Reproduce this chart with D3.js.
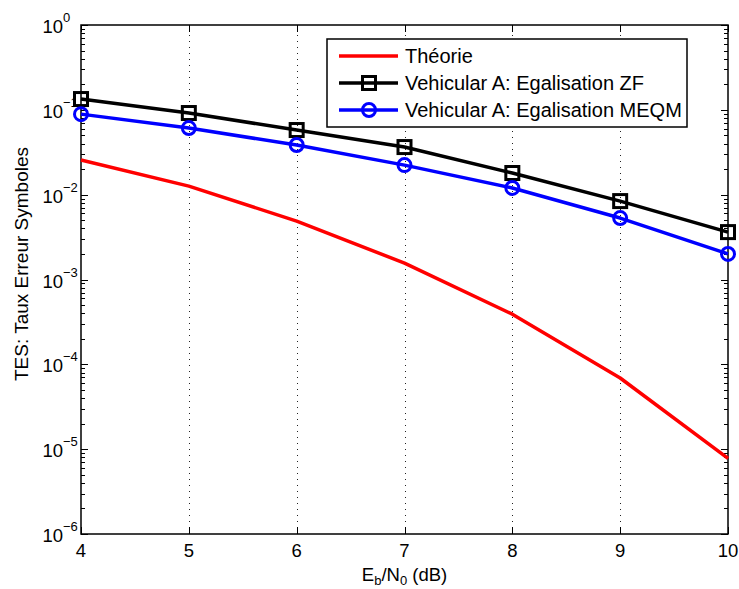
<!DOCTYPE html>
<html lang="fr">
  <head>
    <meta charset="utf-8" />
    <title>TES</title>
    <script src="https://cdn.jsdelivr.net/npm/d3@7"></script>
    <style>
      body { margin: 0; background: #fff; }
      svg { font-family: "Liberation Sans", Arial, sans-serif; }
    </style>
  </head>
  <body>
    <svg id="chart" width="739" height="589"></svg>
    <script>
      // data
      const ebno = [4, 5, 6, 7, 8, 9, 10];
      const theorie = [0.0256, 0.0126, 0.00488, 0.00156, 0.00039, 0.000069, 0.0000078];
      const vehicularZF = [0.134, 0.0917, 0.0578, 0.0364, 0.0180, 0.0084, 0.00362];
      const vehicularMEQM = [0.089, 0.061, 0.0385, 0.0223, 0.0120, 0.0053, 0.0020];
      const yExponents = [0, -1, -2, -3, -4, -5, -6];
      const legendLabels = ["Théorie", "Vehicular A: Egalisation ZF", "Vehicular A: Egalisation MEQM"];

      const svg = d3.select("#chart");
      const margin = {top: 25, right: 11, bottom: 55, left: 81};
      const width = +svg.attr("width");
      const height = +svg.attr("height");

      const x = d3.scaleLinear()
        .domain([4, 10])
        .range([margin.left, width - margin.right]);

      const y = d3.scaleLog()
        .domain([1e-6, 1])
        .range([height - margin.bottom, margin.top]);

      const x0 = x.range()[0], x1 = x.range()[1];
      const y0 = y.range()[0], y1 = y.range()[1];

      // dotted vertical grid
      svg.append("g")
        .selectAll("line")
        .data(ebno.slice(1, -1))
        .join("line")
          .attr("x1", d => Math.round(x(d)) + 0.5).attr("x2", d => Math.round(x(d)) + 0.5)
          .attr("y1", y0).attr("y2", y1)
          .attr("stroke", "#222")
          .attr("stroke-width", 1)
          .attr("stroke-dasharray", "1,5");

      // minor + major log ticks, left and right, pointing inward
      const minor = [];
      for (let e = -6; e < 0; e++) {
        for (let k = 2; k <= 9; k++) minor.push(k * Math.pow(10, e));
      }
      const majors = yExponents.map(e => Math.pow(10, e));

      const ticks = svg.append("g").attr("stroke", "#000").attr("stroke-width", 1);
      ticks.selectAll(".ml").data(minor).join("line")
        .attr("x1", x0).attr("x2", x0 + 4)
        .attr("y1", d => Math.round(y(d)) + 0.5).attr("y2", d => Math.round(y(d)) + 0.5);
      ticks.selectAll(".mr").data(minor).join("line")
        .attr("x1", x1).attr("x2", x1 - 4)
        .attr("y1", d => Math.round(y(d)) + 0.5).attr("y2", d => Math.round(y(d)) + 0.5);
      ticks.selectAll(".Ml").data(majors).join("line")
        .attr("x1", x0).attr("x2", x0 + 7)
        .attr("y1", d => Math.round(y(d)) + 0.5).attr("y2", d => Math.round(y(d)) + 0.5);
      ticks.selectAll(".Mr").data(majors).join("line")
        .attr("x1", x1).attr("x2", x1 - 7)
        .attr("y1", d => Math.round(y(d)) + 0.5).attr("y2", d => Math.round(y(d)) + 0.5);
      // x ticks bottom and top
      ticks.selectAll(".xb").data(ebno).join("line")
        .attr("x1", d => Math.round(x(d)) + 0.5).attr("x2", d => Math.round(x(d)) + 0.5)
        .attr("y1", y0).attr("y2", y0 - 7);
      ticks.selectAll(".xt").data(ebno).join("line")
        .attr("x1", d => Math.round(x(d)) + 0.5).attr("x2", d => Math.round(x(d)) + 0.5)
        .attr("y1", y1).attr("y2", y1 + 7);

      // box
      svg.append("rect")
        .attr("x", x0).attr("y", y1)
        .attr("width", x1 - x0).attr("height", y0 - y1)
        .attr("fill", "none").attr("stroke", "#000").attr("stroke-width", 1.5);

      // x tick labels
      svg.append("g")
        .selectAll("text")
        .data(ebno)
        .join("text")
          .attr("x", d => x(d))
          .attr("y", y0 + 23)
          .attr("text-anchor", "middle")
          .attr("font-size", "18.5px")
          .text(d => d);

      // y tick labels 10^e
      const yl = svg.append("g")
        .selectAll("text")
        .data(yExponents)
        .join("text")
          .attr("x", x0 - 18)
          .attr("y", d => y(Math.pow(10, d)) + 8)
          .attr("text-anchor", "end")
          .attr("font-size", "18.5px");
      yl.append("tspan").text("10");
      yl.append("tspan")
        .attr("x", x0 - 18)
        .attr("dy", -11)
        .attr("font-size", "13px")
        .attr("text-anchor", "start")
        .text(d => d === 0 ? "0" : "\u2212" + (-d));

      // axis titles
      const xt = svg.append("text")
        .attr("x", (x0 + x1) / 2)
        .attr("y", 581)
        .attr("text-anchor", "middle")
        .attr("font-size", "18.5px");
      xt.append("tspan").text("E");
      xt.append("tspan").attr("font-size", "13px").attr("dy", 4).text("b");
      xt.append("tspan").attr("dy", -4).text("/N");
      xt.append("tspan").attr("font-size", "13px").attr("dy", 4).text("0");
      xt.append("tspan").attr("dy", -4).text(" (dB)");

      svg.append("text")
        .attr("transform", "translate(28,264) rotate(-90)")
        .attr("text-anchor", "middle")
        .attr("font-size", "19px")
        .text("TES: Taux Erreur Symboles");

      // curves
      const line = d3.line()
        .x((d, i) => x(ebno[i]))
        .y(d => y(d));

      const series = [
        {values: theorie, color: "#ff0000", marker: null},
        {values: vehicularZF, color: "#000000", marker: "square"},
        {values: vehicularMEQM, color: "#0000ff", marker: "circle"}
      ];

      series.forEach(s => {
        svg.append("path")
          .datum(s.values)
          .attr("d", line)
          .attr("fill", "none")
          .attr("stroke", s.color)
          .attr("stroke-width", 3.5)
          .attr("stroke-linejoin", "round");
        if (s.marker === "square") {
          svg.append("g").selectAll("rect").data(s.values).join("rect")
            .attr("x", (d, i) => x(ebno[i]) - 6.5)
            .attr("y", d => y(d) - 6.5)
            .attr("width", 13).attr("height", 13)
            .attr("fill", "none").attr("stroke", s.color).attr("stroke-width", 3);
        } else if (s.marker === "circle") {
          svg.append("g").selectAll("circle").data(s.values).join("circle")
            .attr("cx", (d, i) => x(ebno[i]))
            .attr("cy", d => y(d))
            .attr("r", 6.5)
            .attr("fill", "none").attr("stroke", s.color).attr("stroke-width", 3);
        }
      });

      // legend
      const lg = svg.append("g").attr("transform", "translate(327,39)");
      lg.append("rect")
        .attr("width", 360).attr("height", 88)
        .attr("fill", "#fff").attr("stroke", "#000").attr("stroke-width", 1.5);
      legendLabels.forEach((label, i) => {
        const s = series[i];
        const cy = 17 + i * 27;
        lg.append("line")
          .attr("x1", 12).attr("x2", 71)
          .attr("y1", cy).attr("y2", cy)
          .attr("stroke", s.color).attr("stroke-width", 3.5);
        if (s.marker === "square") {
          lg.append("rect").attr("x", 35.5).attr("y", cy - 6.5).attr("width", 13).attr("height", 13)
            .attr("fill", "none").attr("stroke", s.color).attr("stroke-width", 3);
        } else if (s.marker === "circle") {
          lg.append("circle").attr("cx", 42).attr("cy", cy).attr("r", 6.5)
            .attr("fill", "none").attr("stroke", s.color).attr("stroke-width", 3);
        }
        lg.append("text")
          .attr("x", 78).attr("y", cy + 7)
          .attr("font-size", "20px")
          .text(label);
      });
    </script>
  </body>
</html>
